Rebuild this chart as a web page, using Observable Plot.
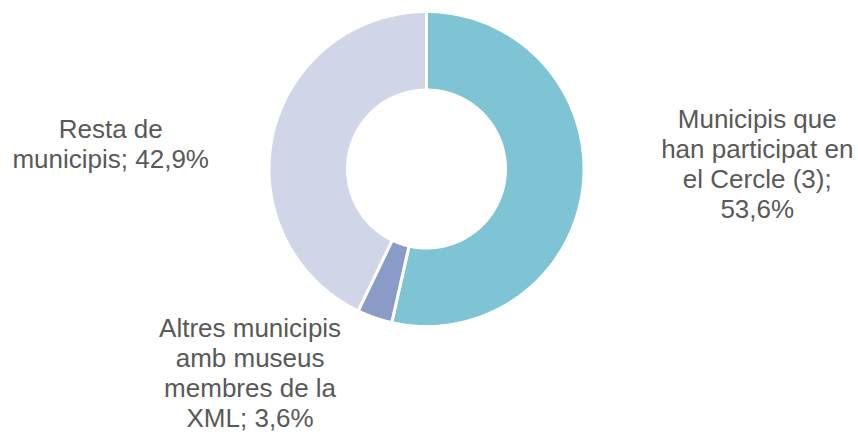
<!DOCTYPE html>
<html>
<head>
<meta charset="utf-8">
<script src="https://cdn.jsdelivr.net/npm/d3@7"></script>
<script src="https://cdn.jsdelivr.net/npm/@observablehq/plot@0.6"></script>
<style>
  html, body { margin: 0; padding: 0; background: #fff; }
  #chart svg { display: block; }
</style>
</head>
<body>
<div id="chart"></div>
<script>
// ---- Data ----
const categories = [
  "Municipis que han participat en el Cercle (3)",
  "Altres municipis amb museus membres de la XML",
  "Resta de municipis"
];
const values = [53.6, 3.6, 42.9];
const labelTexts = [
  "Municipis que\nhan participat en\nel Cercle (3);\n53,6%",
  "Altres municipis\namb museus\nmembres de la\nXML; 3,6%",
  "Resta de\nmunicipis; 42,9%"
];
const colors = ["#7fc4d4", "#8b9bc7", "#d0d5e8"];

// ---- Layout (not data) ----
const W = 858, H = 435;
const cx = 426, cy = 168.5;     // donut centre in pixels
const Rpx = 157.5;              // outer radius (px), incl. half of white separator
const innerRatio = 79 / 157.5;  // hole radius relative to outer
// label anchor offsets from centre, in outer-radius units (x right, y up)
const labelOffset = [[2.10, 0.035], [-1.12, -1.29], [-2.005, 0.163]];

// ---- Build slice polygons from the data via d3.pie ----
const pie = d3.pie().sort(null).value(d => d.value);
const table = categories.map((c, i) => ({category: c, value: values[i], label: labelTexts[i]}));
const arcs = pie(table);
const N = 120;
const polys = [];
arcs.forEach((a) => {
  const pts = [];
  for (let k = 0; k <= N; k++) {
    const t = a.startAngle + (a.endAngle - a.startAngle) * k / N;
    pts.push({category: a.data.category, x: Math.sin(t), y: Math.cos(t)});
  }
  for (let k = N; k >= 0; k--) {
    const t = a.startAngle + (a.endAngle - a.startAngle) * k / N;
    pts.push({category: a.data.category, x: innerRatio * Math.sin(t), y: innerRatio * Math.cos(t)});
  }
  polys.push(...pts);
});
const labels = table.map((d, i) => ({text: d.label, x: labelOffset[i][0], y: labelOffset[i][1]}));

const chart = Plot.plot({
  width: W,
  height: H,
  margin: 0,
  x: {domain: [-cx / Rpx, (W - cx) / Rpx], axis: null},
  y: {domain: [-(H - cy) / Rpx, cy / Rpx], axis: null},
  color: {domain: categories, range: colors},
  marks: [
    Plot.line(polys, {
      x: "x", y: "y", z: "category", fill: "category",
      stroke: "white", strokeWidth: 3, curve: "linear-closed"
    }),
    Plot.text(labels, {
      x: "x", y: "y", text: "text",
      fontSize: 26, lineHeight: 1.15,
      fill: "#595959", textAnchor: "middle",
      fontFamily: "'Liberation Sans', Arial, sans-serif"
    })
  ]
});
document.getElementById("chart").appendChild(chart);
</script>
</body>
</html>
